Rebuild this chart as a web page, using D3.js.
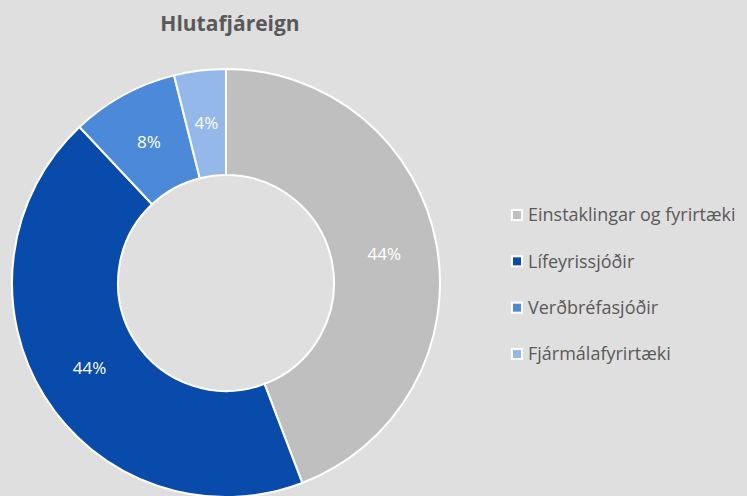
<!DOCTYPE html>
<html><head><meta charset="utf-8">
<script src="https://cdn.jsdelivr.net/npm/d3@7"></script>
<style>body{margin:0;background:#dfdfdf;}svg{display:block;font-family:"Open Sans",Lato,sans-serif;}</style>
</head><body><svg id="c" width="747" height="496"></svg>
<script>
const categories = ["Einstaklingar og fyrirtæki","Lífeyrissjóðir","Verðbréfasjóðir","Fjármálafyrirtæki"];
const values = [44.2, 43.8, 8.1, 3.9];
const labels = ["44%","44%","8%","4%"];
const colors = ["#bfbfbf","#084baa","#4d89d9","#94b8e9"];
const title = "Hlutafjáreign";

const svg = d3.select("#c");
svg.append("rect").attr("width",747).attr("height",496).attr("fill","#dfdfdf");
svg.append("text").attr("x",230).attr("y",31).attr("text-anchor","middle")
  .attr("font-size",21).attr("font-weight","bold").attr("fill","#595959").text(title);

const cx=226, cy=283, R=214, r=108;
const pie = d3.pie().sort(null).value(d=>d);
const arcs = pie(values);
const arc = d3.arc().innerRadius(r).outerRadius(R);
const labelArc = d3.arc().innerRadius(161).outerRadius(161);
const g = svg.append("g").attr("transform",`translate(${cx},${cy})`);
g.selectAll("path").data(arcs).join("path").attr("d",arc)
  .attr("fill",(d,i)=>colors[i]).attr("stroke","#fff").attr("stroke-width",2);
g.selectAll("text").data(arcs).join("text")
  .attr("transform",d=>`translate(${labelArc.centroid(d)})`)
  .attr("text-anchor","middle").attr("dy","0.35em")
  .attr("font-size",17).attr("fill","#fff").text((d,i)=>labels[i]);

const lg = svg.append("g");
const ly = d3.scalePoint().domain(categories).range([215,354]);
const row = lg.selectAll("g").data(categories).join("g")
  .attr("transform",d=>`translate(512,${ly(d)})`);
row.append("rect").attr("x",-1).attr("y",-6).attr("width",12).attr("height",12).attr("fill","#fff");
row.append("rect").attr("x",1).attr("y",-4).attr("width",8).attr("height",8).attr("fill",(d,i)=>colors[i]);
row.append("text").attr("x",16).attr("dy","0.35em").attr("font-size",18).attr("fill","#595959").text(d=>d);
</script></body></html>
